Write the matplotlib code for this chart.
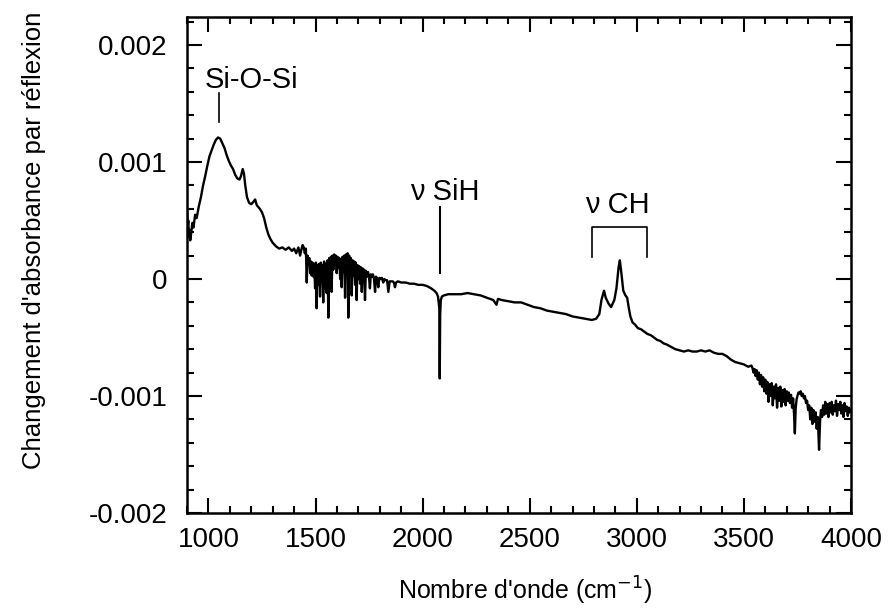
import matplotlib
matplotlib.use("Agg")
import matplotlib.pyplot as plt
import numpy as np

plt.rcParams['font.family'] = ['Liberation Sans', 'DejaVu Sans']

# spectrum, in pieces
# wavenumber in cm-1, absorbance change in units of 1e-3

# Si-O-Si band
wn_sio = [900, 903, 906, 909, 912, 915, 920, 925, 930, 938, 945, 955, 965, 975, 985, 995,
          1005, 1015, 1025, 1035, 1045, 1055, 1065, 1075, 1085, 1095, 1105, 1115, 1125, 1135,
          1145, 1152, 1160, 1166, 1172, 1180, 1190, 1200, 1210, 1218, 1226, 1240, 1250, 1260,
          1270, 1280, 1290, 1300, 1315, 1330, 1345, 1360, 1375, 1390, 1400, 1410, 1420, 1428,
          1435, 1440]
ab_sio = [0.60, 0.45, 0.50, 0.36, 0.42, 0.33, 0.40, 0.48, 0.44, 0.55, 0.52, 0.62, 0.70, 0.80, 0.88, 0.97,
          1.05, 1.10, 1.15, 1.19, 1.21, 1.20, 1.16, 1.12, 1.06, 1.01, 0.97, 0.94, 0.89, 0.86,
          0.85, 0.88, 0.94, 0.90, 0.80, 0.70, 0.65, 0.64, 0.66, 0.68, 0.63, 0.60, 0.57, 0.52,
          0.44, 0.38, 0.34, 0.31, 0.28, 0.26, 0.27, 0.25, 0.27, 0.24, 0.26, 0.22, 0.27, 0.20,
          0.26, 0.29]

# water vapour lines
wn_h2o = [1445, 1450, 1455, 1459, 1463, 1467, 1471, 1475, 1479, 1482, 1486, 1490, 1494, 1498,
          1502, 1505, 1509, 1513, 1517, 1521, 1525, 1529, 1532, 1536, 1540, 1544, 1548, 1552,
          1556, 1560, 1564, 1568, 1572, 1575, 1579, 1583, 1587, 1591, 1595, 1599, 1603, 1607,
          1611, 1615, 1619, 1622, 1626, 1630, 1634, 1638, 1642, 1646, 1650, 1653, 1657, 1661,
          1665, 1669, 1673, 1677, 1681, 1685, 1688, 1692, 1696, 1700, 1704, 1708, 1712, 1716,
          1720, 1724, 1727, 1731, 1735, 1740, 1745, 1750, 1754, 1758, 1763, 1768, 1773, 1778,
          1782, 1787, 1793, 1798, 1805, 1810, 1816, 1822, 1828, 1834, 1840, 1846, 1852, 1860,
          1866, 1871, 1876, 1885, 1900]
ab_h2o = [0.27, 0.22, 0.26, -0.03, 0.20, 0.14, 0.18, 0.05, 0.15, 0.03, 0.14, 0.02, 0.13, -0.08,
          0.14, -0.25, 0.12, -0.05, 0.13, -0.15, 0.14, -0.02, 0.12, -0.20, 0.15, -0.08, 0.13, -0.12,
          0.16, -0.33, 0.18, 0.05, 0.19, -0.11, 0.20, 0.08, 0.21, 0.12, 0.20, 0.05, 0.19, 0.10,
          0.18, 0.00, 0.17, -0.07, 0.19, 0.06, 0.20, -0.16, 0.21, 0.05, 0.22, -0.33, 0.20, 0.02,
          0.18, -0.14, 0.16, 0.03, 0.15, -0.05, 0.14, -0.18, 0.12, 0.00, 0.11, -0.04, 0.10, -0.11,
          0.09, 0.00, 0.08, -0.18, 0.07, 0.02, 0.06, 0.01, -0.08, 0.04, 0.02, 0.04, 0.00, -0.11,
          0.02, 0.01, -0.07, 0.01, 0.00, 0.01, -0.03, 0.00, -0.01, -0.01, -0.11, -0.02, -0.02, -0.02,
          -0.03, -0.07, -0.03, -0.02, -0.03]

# Si-H stretch and baseline
wn_sih = [1920, 1940, 1960, 1980, 2000, 2020, 2040, 2055, 2065, 2072, 2078, 2080, 2082, 2085,
          2090, 2100, 2120, 2150, 2180, 2210, 2240, 2270, 2300, 2330, 2345, 2352, 2370, 2400,
          2430, 2460, 2490, 2520, 2550, 2580, 2610, 2640, 2670, 2700, 2730, 2760, 2790]
ab_sih = [-0.03, -0.04, -0.04, -0.05, -0.05, -0.06, -0.08, -0.10, -0.12, -0.15, -0.25, -0.85, -0.30, -0.18,
          -0.15, -0.14, -0.13, -0.13, -0.13, -0.12, -0.13, -0.14, -0.16, -0.18, -0.22, -0.17, -0.18, -0.19,
          -0.20, -0.20, -0.22, -0.24, -0.25, -0.27, -0.28, -0.29, -0.30, -0.32, -0.33, -0.34, -0.35]

# C-H stretch region
wn_ch = [2810, 2825, 2835, 2847, 2855, 2868, 2880, 2895, 2905, 2915, 2921, 2928, 2937, 2947,
         2955, 2963, 2970, 2980, 2992, 3005, 3020, 3035, 3050, 3065, 3080, 3095, 3110, 3125,
         3140, 3160, 3180, 3200, 3220, 3240, 3260, 3280, 3300, 3320, 3340, 3360, 3380, 3400,
         3420, 3440, 3460, 3480, 3500, 3520, 3535]
ab_ch = [-0.34, -0.30, -0.18, -0.10, -0.16, -0.21, -0.24, -0.18, -0.08, 0.10, 0.16, 0.05, -0.10, -0.14,
         -0.16, -0.25, -0.32, -0.37, -0.39, -0.42, -0.43, -0.45, -0.47, -0.48, -0.50, -0.52, -0.53, -0.55,
         -0.56, -0.58, -0.60, -0.61, -0.62, -0.61, -0.62, -0.62, -0.61, -0.62, -0.61, -0.63, -0.64, -0.64,
         -0.66, -0.69, -0.71, -0.72, -0.73, -0.75, -0.74]

# noisy high-wavenumber end
wn_oh = [3540, 3545, 3550, 3555, 3560, 3565, 3570, 3575, 3580, 3585, 3590, 3595, 3600, 3605,
         3610, 3615, 3620, 3625, 3630, 3635, 3640, 3645, 3650, 3655, 3660, 3665, 3670, 3675,
         3680, 3685, 3690, 3695, 3700, 3705, 3710, 3715, 3720, 3725, 3730, 3734, 3738, 3742,
         3746, 3750, 3755, 3760, 3765, 3770, 3775, 3780, 3785, 3790, 3795, 3800, 3805, 3810,
         3815, 3820, 3825, 3830, 3835, 3840, 3845, 3851, 3856, 3860, 3865, 3870, 3875, 3880,
         3885, 3890, 3895, 3900, 3905, 3910, 3915, 3920, 3925, 3930, 3935, 3940, 3945, 3950,
         3955, 3960, 3965, 3970, 3975, 3980, 3985, 3990, 3995, 4000]
ab_oh = [-0.76, -0.80, -0.77, -0.83, -0.78, -0.86, -0.80, -0.90, -0.82, -0.92, -0.84, -0.96, -0.86, -0.98,
         -0.88, -1.05, -0.90, -1.00, -0.89, -1.08, -0.92, -1.02, -0.90, -1.10, -0.93, -1.04, -0.92, -1.09,
         -0.95, -1.05, -0.94, -1.08, -0.96, -1.04, -0.97, -1.06, -0.99, -1.10, -1.02, -1.15, -1.32, -1.10,
         -1.03, -1.00, -0.97, -0.98, -0.96, -1.00, -0.98, -1.02, -1.00, -1.06, -1.04, -1.12, -1.08, -1.20,
         -1.10, -1.24, -1.12, -1.22, -1.14, -1.28, -1.18, -1.46, -1.20, -1.12, -1.18, -1.08, -1.16, -1.05,
         -1.15, -1.07, -1.18, -1.06, -1.14, -1.05, -1.16, -1.08, -1.13, -1.04, -1.17, -1.07, -1.12, -1.05,
         -1.15, -1.08, -1.18, -1.06, -1.13, -1.09, -1.17, -1.10, -1.14, -1.12]

ytick_values = [-0.002, -0.001, 0, 0.001, 0.002]
ytick_labels = ['-0.002', '-0.001', '0', '0.001', '0.002']
xtick_values = [1000, 1500, 2000, 2500, 3000, 3500, 4000]

wavenumber = np.concatenate([wn_sio, wn_h2o, wn_sih, wn_ch, wn_oh])
absorbance = np.concatenate([ab_sio, ab_h2o, ab_sih, ab_ch, ab_oh]) * 1e-3

fig = plt.figure(figsize=(8.88, 6.15), dpi=100)
ax = fig.add_axes([0.2106, 0.1659, 0.7477, 0.8065])

ax.plot(wavenumber, absorbance, color='black', linewidth=1.7)

ax.set_xlim(900, 4000)
ax.set_ylim(-0.002, 0.00224)

ax.set_xticks(xtick_values)
ax.set_xticks(np.arange(900, 4001, 100), minor=True)
ax.set_yticks(ytick_values)
ax.set_yticklabels(ytick_labels)
ax.set_yticks(np.arange(-0.002, 0.00225, 0.0002), minor=True)

ax.tick_params(which='both', direction='in', top=True, right=True, width=1.5, labelsize=20)
ax.tick_params(which='major', length=10.5)
ax.tick_params(which='minor', length=5)
ax.tick_params(axis='y', pad=14)
ax.tick_params(axis='x', pad=10)
for s in ax.spines.values():
    s.set_linewidth(1.8)

ax.set_xlabel("Nombre d'onde (cm$^{-1}$)", fontsize=18, labelpad=16, x=0.51)
ax.set_ylabel("Changement d'absorbance par réflexion", fontsize=18.5, labelpad=31, y=0.55)

# band labels
ax.plot([1049, 1049], [0.00134, 0.00159], color='black', linewidth=1.2)
ax.text(1199, 0.00163, 'Si-O-Si', ha='center', va='baseline', fontsize=21)

ax.plot([2081, 2081], [0.00005, 0.000615], color='black', linewidth=1.5)
ax.text(2104, 0.000675, 'ν SiH', ha='center', va='baseline', fontsize=21)

ax.plot([2791, 2791, 3048, 3048], [0.00019, 0.000444, 0.000444, 0.00019], color='black', linewidth=1.2)
ax.text(2907, 0.000564, 'ν CH', ha='center', va='baseline', fontsize=21)

fig.savefig('out.png', dpi=100)
